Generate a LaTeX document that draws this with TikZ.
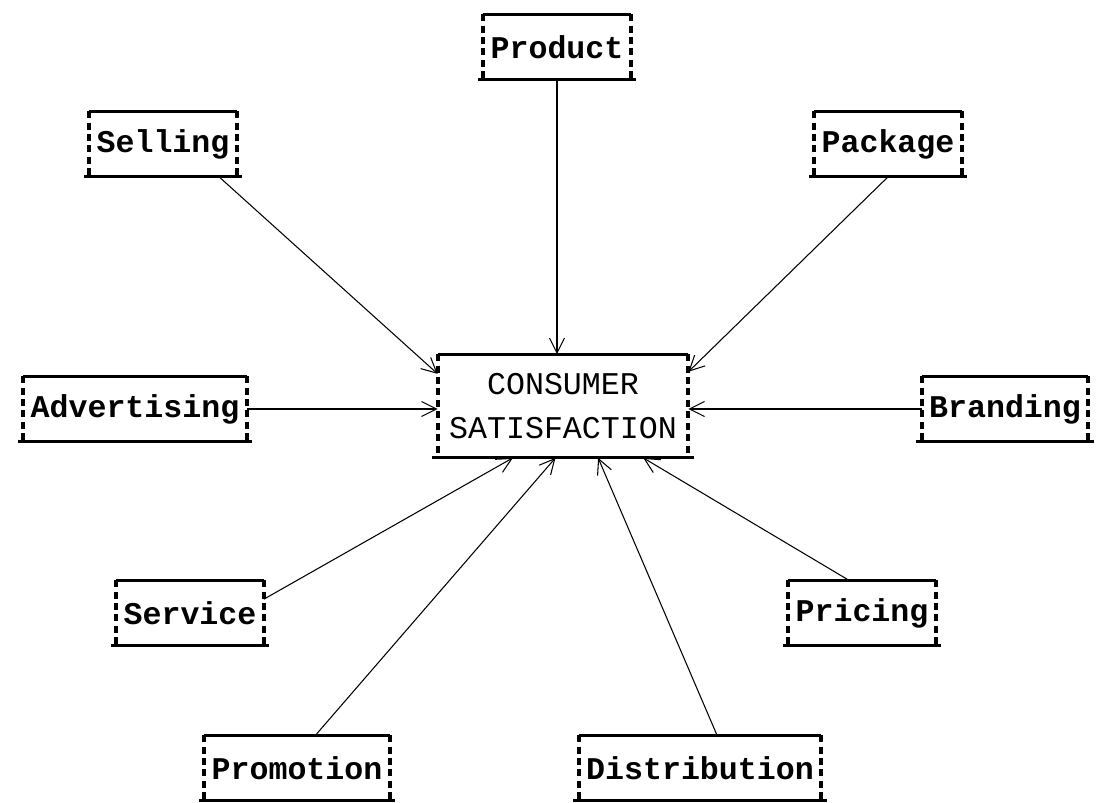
\documentclass[tikz,border=0pt]{standalone}
\usepackage{fontspec}
\setmonofont{Liberation Mono}
\usetikzlibrary{calc,arrows.meta}
\tikzset{
  lbl/.style={font=\ttfamily\bfseries\fontsize{18}{21}\selectfont, inner xsep=4pt, minimum height=1.3cm},
  goal/.style={font=\ttfamily\fontsize{18}{25}\selectfont, align=center, minimum width=5cm, minimum height=2.06cm},
  rule/.style={line width=1.8pt},
  side/.style={line width=2.2pt, dash pattern=on 4pt off 2.5pt},
  arr/.style={line width=0.6pt, -{Straight Barb[length=3mm,width=3mm]}}
}
\begin{document}
\begin{tikzpicture}[x=0.02cm,y=-0.02cm]
\useasboundingbox (0,0) rectangle (1101,802);
\node[lbl] (product) at (557,47) {Product};
\node[lbl] (selling) at (163,144) {Selling};
\node[lbl] (package) at (888,144) {Package};
\node[lbl] (advertising) at (135,409) {Advertising};
\node[lbl] (branding) at (1005,409) {Branding};
\node[lbl] (service) at (190,613) {Service};
\node[lbl] (pricing) at (862,613) {Pricing};
\node[lbl] (promotion) at (297,768) {Promotion};
\node[lbl] (distribution) at (700,768) {Distribution};
\node[goal] (sat) at (563,406) {CONSUMER\\SATISFACTION};
% typed box edges
\foreach \n in {product,selling,package,advertising,branding,service,pricing,promotion,distribution,sat} {
  \draw[rule] (\n.north west) -- (\n.north east);
  \draw[rule] ([xshift=-3pt]\n.south west) -- ([xshift=3pt]\n.south east);
  \draw[side] (\n.north west) -- (\n.south west) (\n.north east) -- (\n.south east);
}
% arrows into the centre
\draw[arr] (product.south) -- (product.south |- sat.north);
\draw[arr] ($(selling.south west)!.88!(selling.south east)$) -- ($(sat.north west)!.19!(sat.south west)$);
\draw[arr] (package.south) -- ($(sat.north east)!.17!(sat.south east)$);
\draw[arr] (advertising.east) -- (advertising.east -| sat.west);
\draw[arr] (branding.west) -- (branding.west -| sat.east);
\draw[arr] ($(service.north east)!.29!(service.south east)$) -- ($(sat.south west)!.3!(sat.south east)$);
\draw[arr] ($(promotion.north west)!.6!(promotion.north east)$) -- ($(sat.south west)!.47!(sat.south east)$);
\draw[arr] ($(distribution.north west)!.57!(distribution.north east)$) -- ($(sat.south west)!.64!(sat.south east)$);
\draw[arr] ($(pricing.north west)!.41!(pricing.north east)$) -- ($(sat.south west)!.82!(sat.south east)$);
\end{tikzpicture}
\end{document}
